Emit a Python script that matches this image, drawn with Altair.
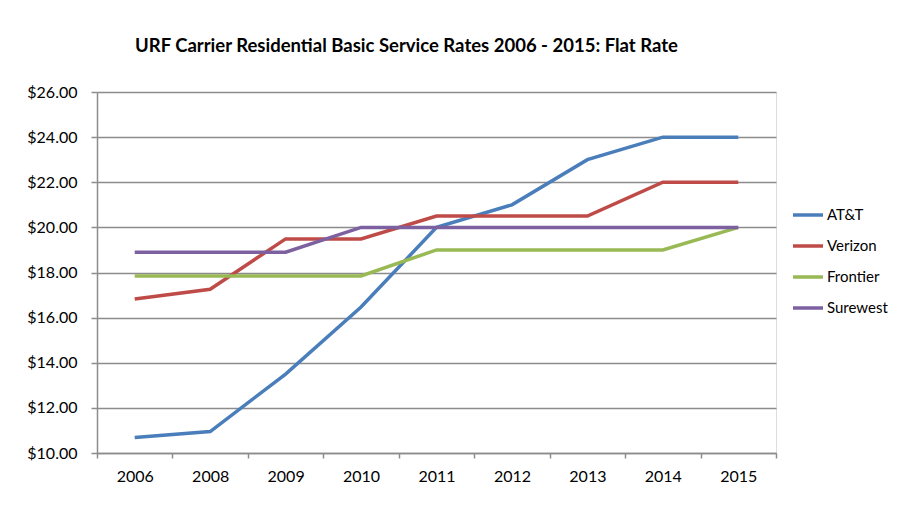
import altair as alt
import pandas as pd

years = ["2006", "2008", "2009", "2010", "2011", "2012", "2013", "2014", "2015"]
att = [10.69, 10.95, 13.5, 16.47, 20.0, 21.0, 23.0, 24.0, 24.0]
verizon = [16.83, 17.26, 19.49, 19.49, 20.5, 20.5, 20.5, 22.0, 22.0]
frontier = [17.85, 17.85, 17.85, 17.85, 19.0, 19.0, 19.0, 19.0, 20.0]
surewest = [18.9, 18.9, 18.9, 20.0, 20.0, 20.0, 20.0, 20.0, 20.0]

carriers = ["AT&T", "Verizon", "Frontier", "Surewest"]
colors = ["#4A7EBB", "#BE4B48", "#98B954", "#7D60A0"]
series = [att, verizon, frontier, surewest]

rows = []
for name, vals in zip(carriers, series):
    for y, v in zip(years, vals):
        rows.append({"Year": y, "Rate": v, "Carrier": name})
df = pd.DataFrame(rows)

FONT = "Lato"

chart = alt.Chart(df).mark_line(strokeWidth=3.5).encode(
    x=alt.X("Year:N", sort=years, title=None,
            scale=alt.Scale(paddingInner=0, paddingOuter=0),
            axis=alt.Axis(labelAngle=0, tickBand="extent", grid=False,
                          domainColor="#8c8c8c", tickColor="#8c8c8c",
                          domainWidth=1.5, tickWidth=1.5, tickSize=5,
                          labelFont=FONT, labelFontSize=16, labelColor="#000",
                          labelPadding=10)),
    y=alt.Y("Rate:Q", title=None,
            scale=alt.Scale(domain=[10, 26], nice=False, zero=False),
            axis=alt.Axis(values=list(range(10, 27, 2)), format="$.2f",
                          grid=True, gridColor="#8c8c8c", gridWidth=1.5,
                          domainColor="#8c8c8c", tickColor="#8c8c8c",
                          domainWidth=1.5, tickWidth=1.5, tickSize=6,
                          labelFont=FONT, labelFontSize=16, labelColor="#000",
                          labelPadding=14)),
    color=alt.Color("Carrier:N", sort=carriers,
                    scale=alt.Scale(domain=carriers, range=colors),
                    legend=alt.Legend(title=None, orient="none",
                                      legendX=694, legendY=106,
                                      symbolType="stroke", symbolSize=900,
                                      symbolStrokeWidth=3.5,
                                      labelFont=FONT, labelFontSize=15,
                                      labelColor="#000", labelOffset=2,
                                      rowPadding=6)),
    order=alt.Order("Carrier:N"),
).properties(
    width=679, height=361,
    title=alt.TitleParams("URF Carrier Residential Basic Service Rates 2006 - 2015: Flat Rate",
                          anchor="start", frame="group", dx=38, offset=29,
                          font=FONT, fontSize=18.5, fontWeight="bold", color="#000"),
    autosize=alt.AutoSizeParams(type="none"),
    padding={"left": 89, "top": 84, "right": 120, "bottom": 50},
).configure_view(stroke=None).configure(background="white")

chart.save("out.html", embed_options={"renderer": "svg", "actions": False})
